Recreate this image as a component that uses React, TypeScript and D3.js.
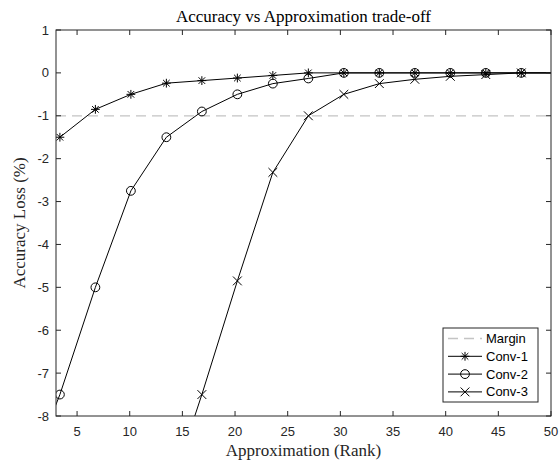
import React, { useEffect, useRef } from 'react'
import * as d3 from 'd3'

// approximation rank (x) shared by all series, null = no sample
const ranks = [0, 3.37, 6.74, 10.11, 13.48, 16.85, 20.22, 23.59, 26.96, 30.33, 33.7, 37.07, 40.44, 43.81, 47.18, 50.55]
const conv1 = [null, -1.5, -0.85, -0.5, -0.24, -0.18, -0.12, -0.06, 0, 0, 0, 0, 0, 0, 0, 0]
const conv2 = [-9.6, -7.5, -5.0, -2.75, -1.5, -0.9, -0.5, -0.25, -0.13, 0, 0, 0, 0, 0, 0, 0]
const conv3 = [null, null, null, null, -10, -7.5, -4.85, -2.32, -1.0, -0.5, -0.25, -0.15, -0.08, -0.04, 0, 0]
const margin = -1

const xTicks = [5, 10, 15, 20, 25, 30, 35, 40, 45, 50]
const yTicks = [1, 0, -1, -2, -3, -4, -5, -6, -7, -8]

const seriesList = [
  { name: 'Conv-1', values: conv1, marker: 'star' },
  { name: 'Conv-2', values: conv2, marker: 'circle' },
  { name: 'Conv-3', values: conv3, marker: 'cross' },
]

const axisColor = '#262626'
const serif = '"Liberation Serif", "Times New Roman", serif'
const sans = '"Liberation Sans", Arial, Helvetica, sans-serif'

function drawMarker(g, type, cx, cy) {
  const s = 4.4
  if (type === 'circle') {
    g.append('circle').attr('cx', cx).attr('cy', cy).attr('r', s)
      .attr('fill', 'none').attr('stroke', '#000').attr('stroke-width', 1)
  } else if (type === 'cross') {
    const p = d3.path()
    p.moveTo(cx - s, cy - s); p.lineTo(cx + s, cy + s)
    p.moveTo(cx - s, cy + s); p.lineTo(cx + s, cy - s)
    g.append('path').attr('d', p.toString()).attr('stroke', '#000').attr('stroke-width', 1).attr('fill', 'none')
  } else {
    const p = d3.path()
    const d = s * 0.75
    p.moveTo(cx - s, cy); p.lineTo(cx + s, cy)
    p.moveTo(cx, cy - s); p.lineTo(cx, cy + s)
    p.moveTo(cx - d, cy - d); p.lineTo(cx + d, cy + d)
    p.moveTo(cx - d, cy + d); p.lineTo(cx + d, cy - d)
    g.append('path').attr('d', p.toString()).attr('stroke', '#000').attr('stroke-width', 1).attr('fill', 'none')
  }
}

export default function App() {
  const svgRef = useRef(null)

  useEffect(() => {
    const svg = d3.select(svgRef.current)
    svg.selectAll('*').remove()

    const width = 559
    const height = 463
    const m = { top: 30, right: 8, bottom: 47, left: 56 }
    const innerW = width - m.left - m.right
    const innerH = height - m.top - m.bottom

    const x = d3.scaleLinear().domain([3, 50]).range([0, innerW])
    const y = d3.scaleLinear().domain([-8, 1]).range([innerH, 0])

    svg.append('rect').attr('width', width).attr('height', height).attr('fill', '#fff')

    svg.append('defs').append('clipPath').attr('id', 'plot-clip')
      .append('rect').attr('width', innerW).attr('height', innerH)

    const g = svg.append('g').attr('transform', `translate(${m.left},${m.top})`)

    // margin line
    g.append('line')
      .attr('x1', 0).attr('x2', innerW)
      .attr('y1', y(margin)).attr('y2', y(margin))
      .attr('stroke', '#c4c4c4').attr('stroke-width', 1.3)
      .attr('stroke-dasharray', '10,6')

    const plot = g.append('g').attr('clip-path', 'url(#plot-clip)')

    seriesList.forEach(s => {
      const pts = ranks.map((r, i) => [r, s.values[i]])
      const line = d3.line()
        .defined(d => d[1] !== null)
        .x(d => x(d[0]))
        .y(d => y(d[1]))
      plot.append('path')
        .attr('d', line(pts))
        .attr('fill', 'none')
        .attr('stroke', '#000')
        .attr('stroke-width', 1)
      pts.filter(d => d[1] !== null).forEach(d => {
        drawMarker(plot, s.marker, x(d[0]), y(d[1]))
      })
    })

    // axes box with inward ticks (MATLAB style)
    const tickLen = 5
    const axes = g.append('g').attr('stroke', axisColor).attr('stroke-width', 1).attr('fill', 'none')
    axes.append('rect').attr('x', 0).attr('y', 0).attr('width', innerW).attr('height', innerH)

    xTicks.forEach(t => {
      const px = x(t)
      axes.append('line').attr('x1', px).attr('x2', px).attr('y1', innerH).attr('y2', innerH - tickLen)
      axes.append('line').attr('x1', px).attr('x2', px).attr('y1', 0).attr('y2', tickLen)
      g.append('text')
        .attr('x', px).attr('y', innerH + 20)
        .attr('text-anchor', 'middle')
        .attr('font-family', sans).attr('font-size', 13)
        .attr('fill', axisColor)
        .text(t)
    })

    yTicks.forEach(t => {
      const py = y(t)
      axes.append('line').attr('x1', 0).attr('x2', tickLen).attr('y1', py).attr('y2', py)
      axes.append('line').attr('x1', innerW).attr('x2', innerW - tickLen).attr('y1', py).attr('y2', py)
      g.append('text')
        .attr('x', -7).attr('y', py + 4.5)
        .attr('text-anchor', 'end')
        .attr('font-family', sans).attr('font-size', 13)
        .attr('fill', axisColor)
        .text(t)
    })

    // title and labels
    svg.append('text')
      .attr('x', m.left + innerW / 2).attr('y', 22)
      .attr('text-anchor', 'middle')
      .attr('font-family', serif).attr('font-size', 17)
      .attr('fill', '#000')
      .text('Accuracy vs Approximation trade-off')

    svg.append('text')
      .attr('x', m.left + innerW / 2).attr('y', 456)
      .attr('text-anchor', 'middle')
      .attr('font-family', serif).attr('font-size', 17)
      .attr('fill', axisColor)
      .text('Approximation (Rank)')

    svg.append('text')
      .attr('transform', `translate(25,${m.top + innerH / 2}) rotate(-90)`)
      .attr('text-anchor', 'middle')
      .attr('font-family', serif).attr('font-size', 17)
      .attr('fill', axisColor)
      .text('Accuracy Loss (%)')

    // legend
    const legendItems = [
      { name: 'Margin', marker: null, dashed: true },
      ...seriesList.map(s => ({ name: s.name, marker: s.marker, dashed: false })),
    ]
    const lg = svg.append('g').attr('transform', 'translate(443,328)')
    lg.append('rect')
      .attr('width', 95).attr('height', 74)
      .attr('fill', '#fff').attr('stroke', axisColor).attr('stroke-width', 1)

    legendItems.forEach((item, i) => {
      const cy = 10.5 + i * 17.8
      lg.append('line')
        .attr('x1', 5).attr('x2', 39).attr('y1', cy).attr('y2', cy)
        .attr('stroke', item.dashed ? '#c4c4c4' : '#000')
        .attr('stroke-width', item.dashed ? 1.3 : 1)
        .attr('stroke-dasharray', item.dashed ? '10,6' : null)
      if (item.marker) drawMarker(lg, item.marker, 22, cy)
      lg.append('text')
        .attr('x', 43).attr('y', cy + 4.5)
        .attr('font-family', sans).attr('font-size', 13)
        .attr('fill', '#000')
        .text(item.name)
    })
  }, [])

  return (
    <svg
      ref={svgRef}
      width={559}
      height={463}
      style={{ position: 'absolute', left: 0, top: 0 }}
    />
  )
}
